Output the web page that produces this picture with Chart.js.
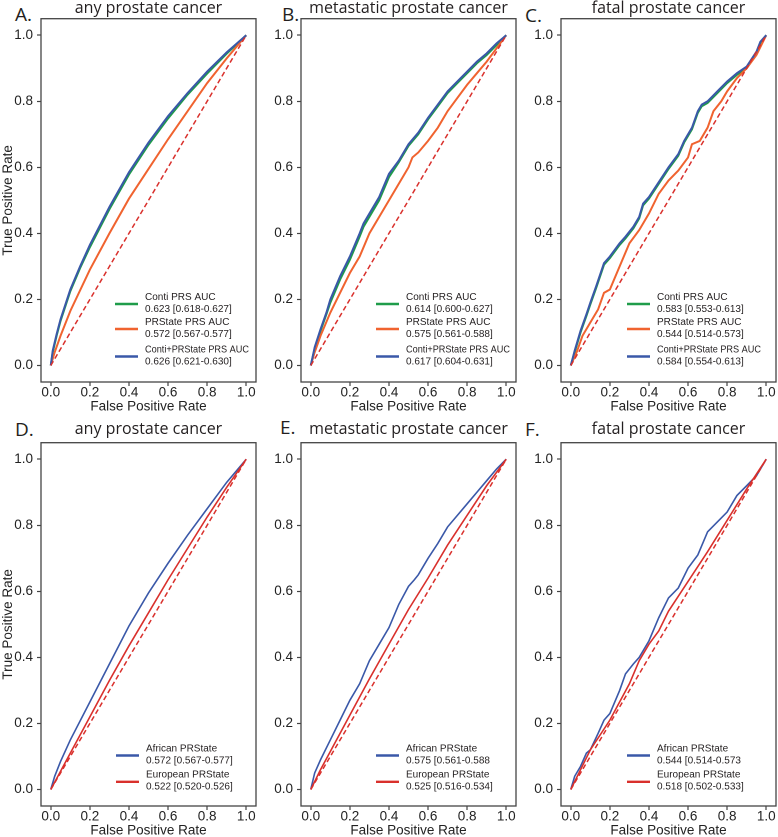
<!DOCTYPE html>
<html><head><meta charset="utf-8">
<script src="https://cdn.jsdelivr.net/npm/chart.js@4/dist/chart.umd.min.js"></script>
<style>
html,body{margin:0;padding:0;background:#fff;}
body{width:778px;height:837px;position:relative;overflow:hidden;}
canvas{position:absolute;}
.lab{position:absolute;font-family:"Open Sans",Lato,sans-serif;font-size:19px;line-height:19px;color:#231f20;}
</style></head>
<body>
<div class="lab" style="left:15px;top:5px">A.</div>
<div class="lab" style="left:282px;top:5px">B.</div>
<div class="lab" style="left:525px;top:6px">C.</div>
<div class="lab" style="left:15px;top:420px">D.</div>
<div class="lab" style="left:280px;top:418px">E.</div>
<div class="lab" style="left:525px;top:420px">F.</div>
<canvas id="cA"></canvas><canvas id="cB"></canvas><canvas id="cC"></canvas>
<canvas id="cD"></canvas><canvas id="cE"></canvas><canvas id="cF"></canvas>
<script>
// ---------- tick values / labels ----------
const tickValues = [0, 0.2, 0.4, 0.6, 0.8, 1.0];
const tickLabels = ['0.0', '0.2', '0.4', '0.6', '0.8', '1.0'];
const panelTitles = ['any prostate cancer', 'metastatic prostate cancer', 'fatal prostate cancer',
                     'any prostate cancer', 'metastatic prostate cancer', 'fatal prostate cancer'];
const diagFpr = [0, 1];
const diagTpr = [0, 1];

// ---------- Panel A: any prostate cancer ----------
const A_conti_fpr = [0, 0.01, 0.03, 0.05, 0.1, 0.15, 0.2, 0.3, 0.4, 0.5, 0.6, 0.7, 0.8, 0.9, 1.0];
const A_conti_tpr = [0, 0.04, 0.09, 0.135, 0.225, 0.295, 0.358, 0.473, 0.578, 0.668, 0.748, 0.82, 0.884, 0.944, 1.0];
const A_prs_fpr   = [0, 0.02, 0.05, 0.1, 0.2, 0.3, 0.4, 0.5, 0.6, 0.7, 0.8, 0.9, 1.0];
const A_prs_tpr   = [0, 0.04, 0.09, 0.165, 0.29, 0.40, 0.505, 0.595, 0.685, 0.77, 0.855, 0.93, 1.0];
const A_comb_fpr  = [0, 0.01, 0.03, 0.05, 0.1, 0.15, 0.2, 0.3, 0.4, 0.5, 0.6, 0.7, 0.8, 0.9, 1.0];
const A_comb_tpr  = [0, 0.045, 0.095, 0.14, 0.23, 0.30, 0.365, 0.48, 0.585, 0.675, 0.755, 0.825, 0.89, 0.948, 1.0];
const A_legend = ['Conti PRS AUC\n0.623 [0.618-0.627]', 'PRState PRS AUC\n0.572 [0.567-0.577]', 'Conti+PRState PRS AUC\n0.626 [0.621-0.630]'];

// ---------- Panel B: metastatic prostate cancer ----------
const B_conti_fpr = [0, 0.02, 0.05, 0.08, 0.1, 0.15, 0.2, 0.25, 0.27, 0.3, 0.35, 0.4, 0.45, 0.5, 0.55, 0.6, 0.65, 0.7, 0.75, 0.8, 0.85, 0.9, 0.95, 1.0];
const B_conti_tpr = [0, 0.05, 0.105, 0.155, 0.19, 0.26, 0.32, 0.39, 0.42, 0.45, 0.50, 0.57, 0.615, 0.665, 0.70, 0.745, 0.785, 0.825, 0.855, 0.885, 0.915, 0.94, 0.97, 1.0];
const B_prs_fpr   = [0, 0.02, 0.05, 0.1, 0.15, 0.2, 0.25, 0.3, 0.35, 0.4, 0.45, 0.5, 0.52, 0.55, 0.6, 0.65, 0.7, 0.75, 0.8, 0.85, 0.9, 0.95, 1.0];
const B_prs_tpr   = [0, 0.04, 0.09, 0.16, 0.22, 0.28, 0.33, 0.40, 0.45, 0.50, 0.55, 0.60, 0.63, 0.645, 0.68, 0.72, 0.77, 0.81, 0.85, 0.885, 0.92, 0.96, 1.0];
const B_comb_fpr  = [0, 0.02, 0.05, 0.08, 0.1, 0.15, 0.2, 0.25, 0.27, 0.3, 0.35, 0.4, 0.45, 0.5, 0.55, 0.6, 0.65, 0.7, 0.75, 0.8, 0.85, 0.9, 0.95, 1.0];
const B_comb_tpr  = [0, 0.055, 0.11, 0.16, 0.20, 0.27, 0.33, 0.40, 0.43, 0.46, 0.51, 0.58, 0.62, 0.67, 0.705, 0.75, 0.79, 0.83, 0.86, 0.89, 0.92, 0.945, 0.975, 1.0];
const B_legend = ['Conti PRS AUC\n0.614 [0.600-0.627]', 'PRState PRS AUC\n0.575 [0.561-0.588]', 'Conti+PRState PRS AUC\n0.617 [0.604-0.631]'];

// ---------- Panel C: fatal prostate cancer ----------
const C_conti_fpr = [0, 0.02, 0.05, 0.08, 0.1, 0.13, 0.17, 0.2, 0.25, 0.28, 0.32, 0.35, 0.37, 0.4, 0.45, 0.5, 0.55, 0.58, 0.62, 0.65, 0.67, 0.7, 0.75, 0.8, 0.85, 0.9, 0.95, 0.97, 1.0];
const C_conti_tpr = [0, 0.04, 0.10, 0.15, 0.185, 0.235, 0.305, 0.325, 0.365, 0.385, 0.415, 0.445, 0.485, 0.505, 0.55, 0.595, 0.635, 0.675, 0.715, 0.765, 0.785, 0.795, 0.825, 0.855, 0.88, 0.90, 0.945, 0.975, 1.0];
const C_prs_fpr   = [0, 0.03, 0.06, 0.1, 0.14, 0.17, 0.2, 0.25, 0.3, 0.35, 0.4, 0.45, 0.5, 0.55, 0.6, 0.62, 0.66, 0.7, 0.73, 0.77, 0.8, 0.85, 0.9, 0.95, 1.0];
const C_prs_tpr   = [0, 0.04, 0.09, 0.13, 0.17, 0.22, 0.23, 0.30, 0.37, 0.41, 0.46, 0.52, 0.56, 0.59, 0.63, 0.67, 0.68, 0.72, 0.77, 0.80, 0.83, 0.87, 0.90, 0.94, 1.0];
const C_comb_fpr  = [0, 0.02, 0.05, 0.08, 0.1, 0.13, 0.17, 0.2, 0.25, 0.28, 0.32, 0.35, 0.37, 0.4, 0.45, 0.5, 0.55, 0.58, 0.62, 0.65, 0.67, 0.7, 0.75, 0.8, 0.85, 0.9, 0.95, 0.97, 1.0];
const C_comb_tpr  = [0, 0.045, 0.105, 0.155, 0.19, 0.24, 0.31, 0.33, 0.37, 0.39, 0.42, 0.45, 0.49, 0.51, 0.555, 0.60, 0.64, 0.68, 0.72, 0.77, 0.79, 0.80, 0.83, 0.86, 0.885, 0.905, 0.95, 0.98, 1.0];
const C_legend = ['Conti PRS AUC\n0.583 [0.553-0.613]', 'PRState PRS AUC\n0.544 [0.514-0.573]', 'Conti+PRState PRS AUC\n0.584 [0.554-0.613]'];

// ---------- Panel D: any prostate cancer, by ancestry ----------
const D_afr_fpr = [0, 0.02, 0.05, 0.1, 0.2, 0.3, 0.4, 0.5, 0.6, 0.7, 0.8, 0.9, 1.0];
const D_afr_tpr = [0, 0.04, 0.085, 0.15, 0.265, 0.38, 0.495, 0.595, 0.685, 0.77, 0.85, 0.93, 1.0];
const D_eur_fpr = [0, 0.1, 0.2, 0.3, 0.4, 0.5, 0.6, 0.7, 0.8, 0.9, 1.0];
const D_eur_tpr = [0, 0.11, 0.22, 0.33, 0.435, 0.535, 0.635, 0.73, 0.825, 0.915, 1.0];
const D_legend = ['African PRState\n0.572 [0.567-0.577]', 'European PRState\n0.522 [0.520-0.526]'];

// ---------- Panel E: metastatic prostate cancer, by ancestry ----------
const E_afr_fpr = [0, 0.02, 0.05, 0.1, 0.15, 0.2, 0.25, 0.3, 0.35, 0.4, 0.45, 0.5, 0.53, 0.55, 0.6, 0.65, 0.7, 0.75, 0.8, 0.85, 0.9, 0.95, 1.0];
const E_afr_tpr = [0, 0.05, 0.09, 0.15, 0.21, 0.27, 0.32, 0.39, 0.44, 0.49, 0.56, 0.615, 0.635, 0.65, 0.70, 0.745, 0.795, 0.83, 0.865, 0.90, 0.935, 0.97, 1.0];
const E_eur_fpr = [0, 0.05, 0.1, 0.2, 0.3, 0.4, 0.5, 0.6, 0.7, 0.8, 0.9, 1.0];
const E_eur_tpr = [0, 0.06, 0.115, 0.225, 0.335, 0.44, 0.545, 0.64, 0.74, 0.83, 0.92, 1.0];
const E_legend = ['African PRState\n0.575 [0.561-0.588', 'European PRState\n0.525 [0.516-0.534]'];

// ---------- Panel F: fatal prostate cancer, by ancestry ----------
const F_afr_fpr = [0, 0.02, 0.05, 0.08, 0.1, 0.14, 0.17, 0.2, 0.25, 0.28, 0.32, 0.35, 0.4, 0.45, 0.5, 0.55, 0.6, 0.65, 0.7, 0.75, 0.8, 0.85, 0.9, 0.95, 1.0];
const F_afr_tpr = [0, 0.04, 0.07, 0.11, 0.12, 0.17, 0.21, 0.23, 0.30, 0.35, 0.38, 0.40, 0.45, 0.52, 0.58, 0.61, 0.67, 0.71, 0.78, 0.81, 0.84, 0.89, 0.92, 0.95, 1.0];
const F_eur_fpr = [0, 0.05, 0.1, 0.2, 0.3, 0.35, 0.4, 0.45, 0.5, 0.6, 0.7, 0.8, 0.9, 1.0];
const F_eur_tpr = [0, 0.06, 0.12, 0.21, 0.32, 0.39, 0.44, 0.48, 0.54, 0.63, 0.72, 0.815, 0.91, 1.0];
const F_legend = ['African PRState\n0.544 [0.514-0.573', 'European PRState\n0.518 [0.502-0.533]'];

// ---------- styling ----------
const GREEN = '#1f9c4a', ORANGE = '#f0632f', BLUE = '#3a58a8', RED = '#d9302c';
const TICK_FONT = {family: '"Liberation Sans", Arial, sans-serif', size: 13.5, lineHeight: 1};
const AXIS_COLOR = '#444';

function pts(xs, ys) { return xs.map((x, i) => ({x: x, y: ys[i]})); }

const frameBox = {
  id: 'frameBox',
  afterDraw(chart) {
    const {ctx, chartArea: a} = chart;
    ctx.save();
    ctx.strokeStyle = AXIS_COLOR; ctx.lineWidth = 1.3;
    ctx.strokeRect(a.left, a.top, a.right - a.left, a.bottom - a.top);
    ctx.restore();
  }
};

const rocLegend = {
  id: 'rocLegend',
  afterDatasetsDraw(chart, args, opts) {
    if (!opts || !opts.rows) return;
    const {ctx, chartArea: a} = chart;
    ctx.save();
    ctx.font = '10px "Liberation Sans", Arial, sans-serif';
    ctx.textBaseline = 'middle';
    ctx.textAlign = 'left';
    const tx = a.right - opts.dx;
    chart.data.datasets.forEach((ds, i) => {
      if (ds.legendRow === undefined) return;
      const ly = a.bottom - opts.rows[ds.legendRow];
      ctx.strokeStyle = ds.borderColor;
      ctx.lineWidth = 2.4;
      ctx.setLineDash([]);
      ctx.beginPath(); ctx.moveTo(tx - 30, ly); ctx.lineTo(tx - 7, ly); ctx.stroke();
      const lines = ds.label.split('\n');
      ctx.fillStyle = '#231f20';
      ctx.fillText(lines[0], tx, ly - 7, 104);
      ctx.fillText(lines[1], tx, ly + 5, 104);
    });
    ctx.restore();
  }
};

function makePanel(id, frame, title, datasets, showYTitle, titlePadB, legendOpts) {
  const padL = 41, padR = 14, xAxisH = 33;
  const titleSize = 16;
  const titleH = titleSize * 1.2 + titlePadB;
  const cv = document.getElementById(id);
  const w = padL + (frame.R - frame.L) + padR;
  const h = Math.round(titleH + (frame.B - frame.T) + xAxisH);
  cv.width = w; cv.height = h;
  cv.style.width = w + 'px'; cv.style.height = h + 'px';
  cv.style.left = (frame.L - padL) + 'px';
  cv.style.top = (frame.T - titleH) + 'px';
  const setTicks = s => { s.ticks = tickValues.map(v => ({value: v})); };
  const fmt = v => { const k = tickValues.findIndex(t => Math.abs(t - v) < 1e-9); return k >= 0 ? tickLabels[k] : ''; };
  new Chart(cv, {
    type: 'scatter',
    data: {datasets: datasets},
    options: {
      responsive: false, animation: false, devicePixelRatio: 2,
      layout: {padding: {left: 0, right: padR, top: 0, bottom: 0}},
      elements: {point: {radius: 0, hoverRadius: 0}, line: {tension: 0}},
      plugins: {
        legend: {display: false}, tooltip: {enabled: false},
        title: {display: true, text: title, fullSize: false, color: '#231f20',
                font: {family: '"Open Sans", Lato, sans-serif', size: titleSize, weight: 'normal', lineHeight: 1.2},
                padding: {top: 0, bottom: titlePadB}},
        rocLegend: legendOpts
      },
      scales: {
        x: {
          type: 'linear', min: -0.05, max: 1.05,
          afterBuildTicks: setTicks,
          afterFit: s => { s.height = xAxisH; },
          grid: {display: true, drawOnChartArea: false, drawTicks: true, tickLength: 4, tickWidth: 1.2, tickColor: AXIS_COLOR},
          border: {display: false},
          ticks: {font: TICK_FONT, color: '#222', padding: 0, maxRotation: 0, autoSkip: false, callback: fmt},
          title: {display: true, text: 'False Positive Rate', color: '#222',
                  font: {family: '"Liberation Sans", Arial, sans-serif', size: 13.5, lineHeight: 1.2}, padding: 0}
        },
        y: {
          type: 'linear', min: -0.05, max: 1.05,
          afterBuildTicks: setTicks,
          afterFit: s => { s.width = padL; },
          grid: {display: true, drawOnChartArea: false, drawTicks: true, tickLength: 4, tickWidth: 1.2, tickColor: AXIS_COLOR},
          border: {display: false},
          ticks: {font: TICK_FONT, color: '#222', padding: 4, autoSkip: false, callback: fmt},
          title: {display: showYTitle, text: 'True Positive Rate', color: '#222',
                  font: {family: '"Liberation Sans", Arial, sans-serif', size: 13.5, lineHeight: 1.2}, padding: 0}
        }
      }
    },
    plugins: [frameBox, rocLegend]
  });
}

// lower "order" is drawn on top in Chart.js
function curve(label, xs, ys, color, width, row, order) {
  return {label: label, data: pts(xs, ys), borderColor: color, backgroundColor: color,
          borderWidth: width, showLine: true, fill: false, pointRadius: 0, legendRow: row, order: order};
}
function diag() {
  return {label: 'chance', data: pts(diagFpr, diagTpr), borderColor: RED, borderWidth: 1.5,
          borderDash: [5, 3], showLine: true, fill: false, pointRadius: 0, order: 0};
}

const topRows = [78, 53, 25.5];
const botRows = [50.5, 24.2];
const fA = {L: 41, R: 256, T: 19, B: 382}, fB = {L: 301, R: 516, T: 19, B: 382}, fC = {L: 561, R: 776, T: 19, B: 382};
const fD = {L: 41, R: 256, T: 443, B: 806}, fE = {L: 301, R: 516, T: 443, B: 806}, fF = {L: 561, R: 776, T: 443, B: 806};

makePanel('cA', fA, panelTitles[0], [
  curve(A_legend[0], A_conti_fpr, A_conti_tpr, GREEN, 2, 0, 3),
  curve(A_legend[1], A_prs_fpr, A_prs_tpr, ORANGE, 2, 1, 2),
  curve(A_legend[2], A_comb_fpr, A_comb_tpr, BLUE, 2, 2, 1),
  diag()], true, 0.5, {dx: 111, rows: topRows});
makePanel('cB', fB, panelTitles[1], [
  curve(B_legend[0], B_conti_fpr, B_conti_tpr, GREEN, 2, 0, 3),
  curve(B_legend[1], B_prs_fpr, B_prs_tpr, ORANGE, 2, 1, 2),
  curve(B_legend[2], B_comb_fpr, B_comb_tpr, BLUE, 2, 2, 1),
  diag()], false, 0.5, {dx: 110, rows: topRows});
makePanel('cC', fC, panelTitles[2], [
  curve(C_legend[0], C_conti_fpr, C_conti_tpr, GREEN, 2, 0, 3),
  curve(C_legend[1], C_prs_fpr, C_prs_tpr, ORANGE, 2, 1, 2),
  curve(C_legend[2], C_comb_fpr, C_comb_tpr, BLUE, 2, 2, 1),
  diag()], false, 0.5, {dx: 119, rows: topRows});
makePanel('cD', fD, panelTitles[3], [
  curve(D_legend[0], D_afr_fpr, D_afr_tpr, BLUE, 1.6, 0, 2),
  curve(D_legend[1], D_eur_fpr, D_eur_tpr, RED, 1.6, 1, 1),
  diag()], true, 3.5, {dx: 110, rows: botRows});
makePanel('cE', fE, panelTitles[4], [
  curve(E_legend[0], E_afr_fpr, E_afr_tpr, BLUE, 1.6, 0, 2),
  curve(E_legend[1], E_eur_fpr, E_eur_tpr, RED, 1.6, 1, 1),
  diag()], false, 3.5, {dx: 110, rows: botRows});
makePanel('cF', fF, panelTitles[5], [
  curve(F_legend[0], F_afr_fpr, F_afr_tpr, BLUE, 1.6, 0, 2),
  curve(F_legend[1], F_eur_fpr, F_eur_tpr, RED, 1.6, 1, 1),
  diag()], false, 3.5, {dx: 119, rows: botRows});
</script>
</body></html>
